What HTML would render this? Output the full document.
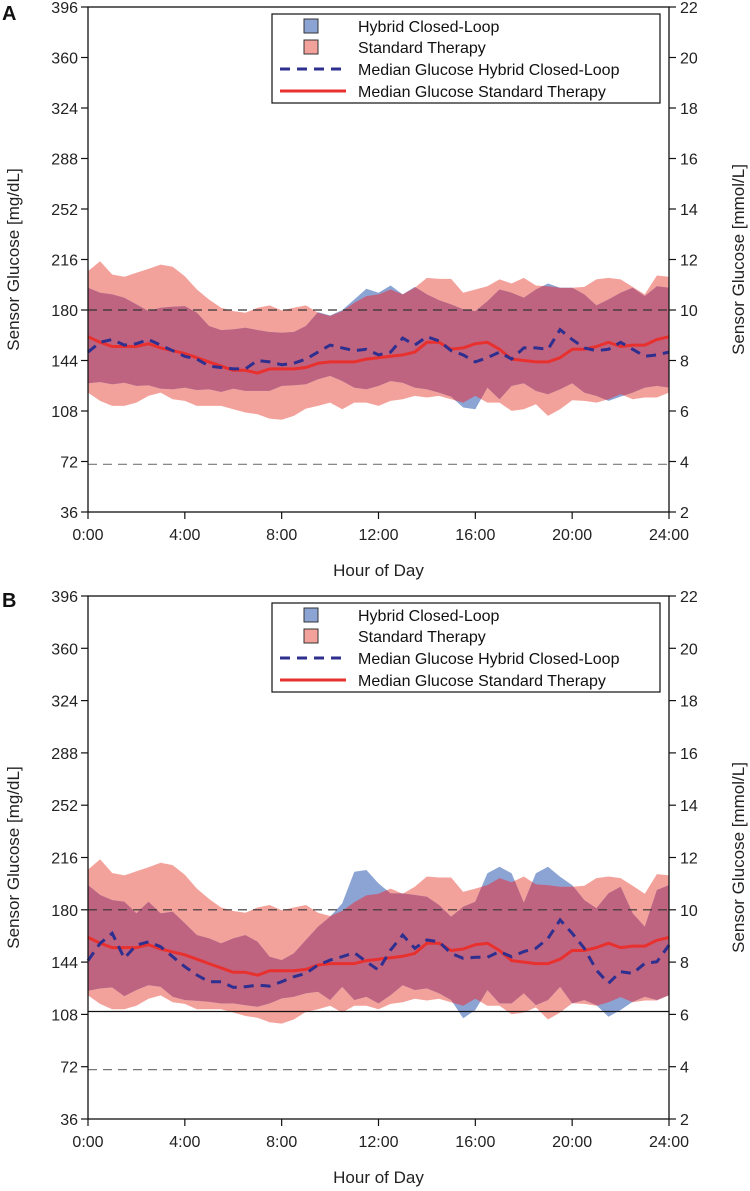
<!DOCTYPE html>
<html><head><meta charset="utf-8"><style>
html,body{margin:0;padding:0;background:#fff;}
svg{display:block;font-family:"Liberation Sans","DejaVu Sans",sans-serif;}
</style></head><body>
<svg id="chart" width="750" height="1191" viewBox="0 0 750 1191" xmlns="http://www.w3.org/2000/svg"></svg>
<script>
// ---- data (mg/dL, sampled every 30 min, 0:00..24:00) ----
const hours = Array.from({length:49},(_,i)=>i*0.5);
const yTicks = [36,72,108,144,180,216,252,288,324,360,396];
const yTicksMmol = [2,4,6,8,10,12,14,16,18,20,22];
const xTicks = [0,4,8,12,16,20,24];
const xTickLabels = ["0:00","4:00","8:00","12:00","16:00","20:00","24:00"];

const stMedian = [161,157,154,154,154,156,153,151,149,146,143,140,137,137,135,138,138,138,139,142,143,143,143,145,146,147,148,150,157,157,152,153,156,157,152,145,144,143,143,146,152,152,154,157,154,155,155,159,161];
const stUpper = [207.7,214.8,205.3,203.7,206.5,209.3,212.4,210.8,204.1,194.6,187.5,181.6,179.2,178.0,181.6,183.3,179.7,181.6,183.3,178.0,175.7,179.2,185.2,189.9,191.1,194.6,191.1,195.8,202.9,202.2,202.2,192.3,194.6,197.0,201.8,198.9,202.9,197.5,197.0,195.8,195.8,196.5,201.8,202.9,201.8,196.5,191.1,204.6,203.7];
const stLower = [121.1,115.2,111.6,111.6,114.0,118.8,121.1,116.4,115.2,111.6,111.6,111.6,109.3,106.9,105.7,102.6,101.7,104.5,109.7,111.6,114.0,109.3,114.0,114.0,111.6,115.2,116.4,118.8,117.6,118.8,116.4,114.0,118.8,114.0,114.0,108.1,109.3,112.8,104.5,109.3,115.7,115.2,114.0,116.4,119.9,116.4,117.6,117.6,121.1];

const hclMedianA = [150,157,159,155,156,159,155,151,147,145,140,139,138,138,144,143,141,142,145,150,155,153,151,152,148,150,160,155,161,158,151,148,143,146,150,145,153,153,152,166,159,153,151,152,157,152,147,148,150];
const hclUpperA = [195.8,192.3,191.1,188.7,184.0,179.2,181.6,182.3,182.8,178.0,168.6,165.7,166.2,167.4,165.7,164.3,163.8,164.3,168.6,178.5,176.1,179.9,187.5,195.1,192.3,197.5,191.1,196.5,191.1,187.0,184.0,180.4,179.2,186.3,194.6,192.3,188.7,194.6,198.9,195.8,195.8,191.1,183.3,187.5,192.3,195.8,189.9,197.0,195.8];
const hclLowerA = [127.8,128.7,127.1,128.2,125.9,126.3,124.0,123.5,124.7,123.0,123.5,121.6,124.0,122.3,122.3,122.3,125.9,126.3,127.1,130.6,133.0,129.4,124.7,123.5,125.9,129.4,128.2,124.7,123.5,121.1,118.3,110.5,109.3,124.7,116.4,125.9,127.8,122.3,120.0,123.5,127.8,121.1,118.8,115.2,118.3,121.1,124.7,125.9,124.7];

const hclMedianB = [145.0,156.9,163.8,146.6,155.7,158.0,154.6,147.7,140.8,135.1,130.5,130.5,126.6,127.1,128.2,127.5,130.5,133.9,136.2,142.0,145.4,147.7,150.5,144.3,138.5,152.3,162.6,153.5,159.2,158.0,150.0,146.6,147.3,147.3,151.2,147.7,151.2,153.5,160.3,173.0,163.8,153.5,138.5,129.4,137.4,136.2,143.1,144.3,155.7];
const hclUpperB = [197.0,190.2,186.7,185.6,177.5,185.6,177.5,178.7,170.7,162.6,160.3,156.9,160.3,162.6,158.0,147.7,145.4,150.0,159.2,168.4,175.2,184.4,206.2,207.4,198.2,191.3,191.3,190.2,189.0,183.3,175.2,182.1,185.6,205.1,209.7,205.1,184.9,205.1,209.7,202.8,197.0,186.7,181.0,191.3,195.9,177.5,168.4,193.6,197.0];
const hclLowerB = [124.3,125.9,126.6,120.6,124.8,128.2,127.1,120.2,117.9,117.4,116.7,115.6,115.6,114.4,113.3,115.6,119.0,120.2,122.5,123.6,117.9,127.1,117.9,120.2,115.6,121.3,128.2,124.8,125.9,122.5,117.9,105.3,111.0,124.8,115.6,115.6,122.5,114.4,117.9,127.1,115.6,117.9,114.4,106.4,111.0,116.7,120.2,117.9,121.3];

const legendLabels = ["Hybrid Closed-Loop","Standard Therapy","Median Glucose Hybrid Closed-Loop","Median Glucose Standard Therapy"];

const NS="http://www.w3.org/2000/svg";
const svg=document.getElementById('chart');
function mk(tag,attrs,parent){const e=document.createElementNS(NS,tag);for(const k in attrs)e.setAttribute(k,attrs[k]);(parent||svg).appendChild(e);return e;}

function drawPanel(p){
  const g=mk('g',{});
  
  
  const L=88,R=669,T=p.top,B=p.bottom;
  const x=h=>L+(R-L)*h/24;
  const y=v=>B-(B-T)*(v-36)/360;
  const bandPath=(up,lo)=>{let d='';hours.forEach((h,i)=>{d+=(i?'L':'M')+x(h).toFixed(1)+','+y(up[i]).toFixed(1);});for(let i=hours.length-1;i>=0;i--)d+='L'+x(hours[i]).toFixed(1)+','+y(lo[i]).toFixed(1);return d+'Z';};
  const linePath=arr=>hours.map((h,i)=>(i?'L':'M')+x(h).toFixed(1)+','+y(arr[i]).toFixed(1)).join('');
  const cid='clip-st-'+p.id;
  const defs=mk('defs',{},g);const cp=mk('clipPath',{id:cid},defs);mk('path',{d:bandPath(stUpper,stLower)},cp);
  const st=mk('path',{d:bandPath(stUpper,stLower),fill:'#f3a29b'},g);
  
  
  const hb=mk('path',{d:bandPath(p.hu,p.hl),fill:'#8ba4d4'},g);
  
  
  const ov=mk('path',{d:bandPath(p.hu,p.hl),fill:'#bf6480','clip-path':'url(#'+cid+')'},g);
  
  
  // reference lines
  const l180=mk('line',{x1:L,x2:R,y1:y(180),y2:y(180),stroke:'#333','stroke-width':1.2,'stroke-dasharray':'9,6'},g);
  
  
  const l72=mk('line',{x1:L,x2:R,y1:y(70),y2:y(70),stroke:'#777','stroke-width':1.2,'stroke-dasharray':'9,6'},g);
  
  
  if(p.solid){const s=mk('line',{x1:L,x2:R,y1:y(110),y2:y(110),stroke:'#111','stroke-width':1.3},g);
    
    }
  const ml=mk('path',{d:linePath(stMedian),fill:'none',stroke:'#e8302e','stroke-width':3,'stroke-linejoin':'round'},g);
  
  
  const mh=mk('path',{d:linePath(p.hm),fill:'none',stroke:'#2e2f8f','stroke-width':3,'stroke-dasharray':'10,7'},g);
  
  
  // frame
  const fr=mk('rect',{x:L,y:T,width:R-L,height:B-T,fill:'none',stroke:'#111','stroke-width':1.3},g);
  
  
  yTicks.forEach((v,i)=>{
    mk('line',{x1:L-7,x2:L,y1:y(v),y2:y(v),stroke:'#111','stroke-width':1.2},g);
    mk('line',{x1:R,x2:R+7,y1:y(v),y2:y(v),stroke:'#111','stroke-width':1.2},g);
    const t=mk('text',{x:L-10,y:y(v)+6,'text-anchor':'end','font-size':16,fill:'#222'},g);t.textContent=v;
    
    
    const t2=mk('text',{x:R+11,y:y(v)+6,'font-size':16,fill:'#222'},g);t2.textContent=yTicksMmol[i];
    
    
  });
  xTicks.forEach((h,i)=>{
    mk('line',{x1:x(h),x2:x(h),y1:B,y2:B+7,stroke:'#111','stroke-width':1.2},g);
    const t=mk('text',{x:x(h),y:B+28,'text-anchor':'middle','font-size':16,fill:'#222'},g);t.textContent=xTickLabels[i];
    
    
  });
  const xt=mk('text',{x:(L+R)/2,y:B+64,'text-anchor':'middle','font-size':17,fill:'#222'},g);xt.textContent='Hour of Day';
  
  
  const yt=mk('text',{x:0,y:0,'text-anchor':'middle','font-size':17,fill:'#222',transform:`translate(19,${(T+B)/2}) rotate(-90)`},g);yt.textContent='Sensor Glucose [mg/dL]';
  
  
  const yt2=mk('text',{x:0,y:0,'text-anchor':'middle','font-size':17,fill:'#222',transform:`translate(744,${(T+B)/2}) rotate(-90)`},g);yt2.textContent='Sensor Glucose [mmol/L]';
  
  
  const pl=mk('text',{x:2,y:p.labelY,'font-size':20,'font-weight':'bold',fill:'#111'},g);pl.textContent=p.id;
  
  
  // legend
  const lg=mk('g',{},g);
  
  
  const ly=p.legTop;
  mk('rect',{x:272,y:ly,width:388,height:89,fill:'#fff',stroke:'#111','stroke-width':1.2},lg);
  const rowY=[ly+12,ly+33,ly+55,ly+77];
  mk('rect',{x:304,y:rowY[0]-7,width:14,height:14,fill:'#8ba4d4',stroke:'#333','stroke-width':1},lg);
  mk('rect',{x:304,y:rowY[1]-7,width:14,height:14,fill:'#f3a29b',stroke:'#333','stroke-width':1},lg);
  mk('line',{x1:280,x2:346,y1:rowY[2],y2:rowY[2],stroke:'#2e2f8f','stroke-width':3,'stroke-dasharray':'10,7'},lg);
  mk('line',{x1:280,x2:346,y1:rowY[3],y2:rowY[3],stroke:'#e8302e','stroke-width':3},lg);
  legendLabels.forEach((s,i)=>{
    const t=mk('text',{x:358,y:rowY[i]+6,'font-size':16,fill:'#111'},lg);t.textContent=s;
    
    
  });
}
drawPanel({id:'A',top:7,bottom:512,labelY:20,legTop:14,hm:hclMedianA,hu:hclUpperA,hl:hclLowerA,solid:false});
drawPanel({id:'B',top:596,bottom:1119,labelY:607,legTop:603,hm:hclMedianB,hu:hclUpperB,hl:hclLowerB,solid:true});
</script>
</body></html>
